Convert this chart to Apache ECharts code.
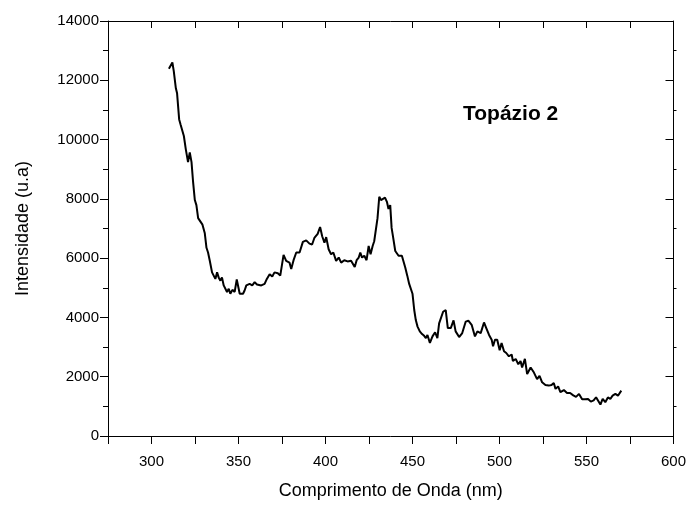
<!DOCTYPE html>
<html>
<head>
    <meta charset="utf-8">
    <title>Topázio 2</title>
    <script src="https://cdn.jsdelivr.net/npm/echarts@6/dist/echarts.min.js"></script>
    <style>
        html, body { margin: 0; padding: 0; background: #fff; }
    </style>
</head>
<body>
<div id="main" style="width: 689px;height:505px;"></div>
<script type="text/javascript">
    // comprimento de onda (nm) e intensidade
    var wavelength = [
        310, 311, 312, 312.8, 314, 314.7, 315.9, 316.7, 317.8, 318.6, 319.7, 321, 322, 323, 323.9, 324.9,
        325.8, 326.8, 327.7, 329.3, 330.6, 331.6, 332.5, 333.5, 334.8, 335.8, 336.7, 337.7, 338.6, 339.6,
        340.5, 341.5, 342.5, 343.4, 344.4, 345.3, 346.5, 347.8, 349, 350.7, 351.6, 352.6, 353.5, 354.5,
        355.4, 356.4, 357.9, 359.3, 360.6, 363.1, 365, 366.3, 367.9, 369.4, 370.7, 372.6, 374, 375.9,
        377.4, 379.3, 380.3, 381.8, 383.2, 385.1, 387, 388.9, 390.8, 392.3, 393.6, 395.5, 396.9, 398.1,
        399.4, 400.4, 401.8, 403.2, 404.5, 406.1, 407.6, 409, 410.8, 412.7, 414.7, 416.8, 417.9, 419.1,
        420, 421, 422.3, 423.6, 424.8, 425.9, 427.1, 428, 429, 429.9, 430.9, 431.9, 432.8, 434.2, 435.3,
        436.2, 437.2, 438, 438.9, 440.1, 441.1, 442, 443, 443.9, 444.8, 445.8, 447, 448.1, 449.2, 450,
        451, 451.9, 452.9, 454.2, 455.5, 456.7, 457.7, 458.6, 460, 461.5, 463, 464.3, 465.3, 466.3, 467.6,
        469.1, 470.3, 472, 473.6, 474.8, 476.8, 478.5, 480.6, 482.1, 484, 485.9, 487.3, 489.2, 491.1,
        492.4, 494, 495.5, 496.3, 497.4, 498.7, 500.1, 501.2, 502.6, 503.9, 505.4, 507, 507.7, 509.3,
        510.8, 512.1, 513, 514.6, 515.9, 517.9, 519.8, 521.6, 523, 524.5, 526.4, 528.3, 529.9, 531.2,
        532.2, 533.7, 535, 537, 538.8, 540.6, 542.4, 544, 545.7, 547.5, 549.2, 550.9, 552.5, 554.1,
        555.5, 556.6, 558, 559.3, 560.8, 562.3, 563.7, 565, 566.6, 568.1, 570
    ];
    var intensity = [
        12390, 12330, 12600, 12310, 11730, 11560, 10680, 10510, 10540, 10120, 9680, 9240, 9570, 9240, 8570, 7960,
        7790, 7350, 7410, 7130, 6850, 6350, 6190, 5910, 5520, 5460, 5300, 5520, 5350, 5240,
        5350, 5080, 5020, 4860, 4970, 4800, 4930, 4860, 5280, 4800, 4860, 4800, 4910, 5080,
        5020, 5130, 5080, 5190, 5110, 5080, 5130, 5300, 5460, 5380, 5520, 5490, 5410, 6110,
        5910, 5850, 5630, 5960, 6190, 6190, 6550, 6600, 6490, 6460, 6680, 6820, 7050, 6740,
        6520, 6710, 6300, 6130, 6190, 5910, 6020, 5850, 5930, 5890, 5910, 5700, 5930, 6020,
        6190, 6020, 6080, 5930, 6410, 6130, 6410, 6570, 6630, 7350, 8070, 7960, 7960, 8040, 7900,
        7660, 7790, 7020, 6690, 6240, 6190, 6080, 6020, 6080, 6020, 5690, 5410, 5130, 5130, 4800,
        4250, 3910, 3690, 3530, 3440, 3380, 3300, 3410, 3140, 3360, 3500, 3300, 3800, 3860, 4190,
        4250, 3640, 3640, 3900, 3530, 3340, 3460, 3860, 3890, 3750, 3360, 3530, 3470, 3830,
        3640, 3410, 3250, 3030, 3250, 3250, 2890, 3140, 2860, 2800, 2690, 2750, 2530, 2600,
        2420, 2530, 2310, 2600, 2090, 2310, 2140, 1920, 2030, 1810, 1720, 1700, 1720, 1790,
        1590, 1670, 1480, 1550, 1450, 1450, 1370, 1320, 1420, 1240, 1240, 1250, 1160, 1200,
        1307, 1250, 1060, 1250, 1140, 1300, 1250, 1360, 1420, 1360, 1530
    ];
    var sampleName = 'Topázio 2';
    var xName = 'Comprimento de Onda (nm)';
    var yName = 'Intensidade (u.a)';

    var points = [];
    for (var i = 0; i < wavelength.length; i++) {
        points.push([wavelength[i], intensity[i]]);
    }

    var myChart = echarts.init(document.getElementById('main'), null, {renderer: 'canvas'});

    var font = 'Liberation Sans, Arial, sans-serif';
    var black = '#000';

    var option = {
        animation: false,
        backgroundColor: '#fff',
        title: {
            text: sampleName,
            left: 458,
            top: 99,
            textStyle: {fontFamily: font, fontSize: 21, fontWeight: 'bold', color: black}
        },
        grid: {left: 108, right: 14, top: 21, bottom: 64, containLabel: false},
        xAxis: [
            {
                type: 'value', min: 275, max: 600, interval: 25,
                name: xName, nameLocation: 'middle', nameGap: 46,
                nameTextStyle: {fontFamily: font, fontSize: 18, color: black},
                axisLine: {onZero: false, lineStyle: {color: black, width: 1}},
                axisTick: {inside: false, length: 8, lineStyle: {color: black}},
                axisLabel: {
                    fontFamily: font, fontSize: 15, color: black, margin: 18,
                    formatter: function (v) { return v % 50 === 0 ? String(v) : ''; }
                },
                splitLine: {show: false}
            },
            {
                type: 'value', position: 'top', min: 275, max: 600, interval: 25,
                axisLine: {onZero: false, lineStyle: {color: black, width: 1}},
                axisTick: {inside: true, length: 7, lineStyle: {color: black}},
                axisLabel: {show: false},
                splitLine: {show: false}
            }
        ],
        yAxis: [
            {
                type: 'value', min: 0, max: 14000, interval: 2000,
                name: yName, nameLocation: 'middle', nameGap: 76,
                nameTextStyle: {fontFamily: font, fontSize: 18, color: black},
                axisLine: {onZero: false, lineStyle: {color: black, width: 1}},
                axisTick: {inside: false, length: 8, lineStyle: {color: black}},
                minorTick: {show: true, splitNumber: 2, length: 5, lineStyle: {color: black}},
                axisLabel: {
                    fontFamily: font, fontSize: 15, color: black, margin: 9,
                    formatter: function (v) { return String(v); }
                },
                splitLine: {show: false}
            },
            {
                type: 'value', position: 'right', min: 0, max: 14000, interval: 2000,
                axisLine: {onZero: false, lineStyle: {color: black, width: 1}},
                axisTick: {inside: true, length: 8, lineStyle: {color: black}},
                minorTick: {show: true, splitNumber: 2, length: -3, lineStyle: {color: black}},
                axisLabel: {show: false},
                splitLine: {show: false}
            }
        ],
        series: [
            {
                name: sampleName,
                type: 'line',
                xAxisIndex: 0,
                yAxisIndex: 0,
                showSymbol: false,
                smooth: false,
                lineStyle: {color: black, width: 2},
                data: points
            }
        ]
    };

    myChart.setOption(option);
</script>
</body>
</html>
